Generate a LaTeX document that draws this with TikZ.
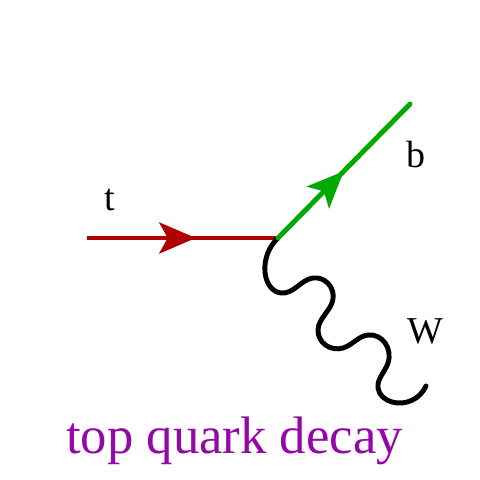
\documentclass[tikz,border=0pt]{standalone}
\usepackage{fontspec}
\setmainfont{Liberation Serif}
\usepackage{xcolor}
\usetikzlibrary{arrows.meta, decorations.markings, hobby}

\definecolor{topred}{RGB}{176,0,0}
\definecolor{bgreen}{RGB}{0,170,0}
\definecolor{titlepurple}{RGB}{148,8,168}

\begin{document}
\begin{tikzpicture}[x=0.025cm,y=-0.025cm,
                    quark/.style={line width=3.5pt},
                    midarrow/.style={postaction={decorate},
                      decoration={markings,mark=at position #1 with {\arrow{Stealth[length=26pt,width=22pt,inset=6pt]}}}},
                    boson/.style={line width=3.5pt,line cap=round,black},
                    particle/.style={font=\fontsize{27}{30}\selectfont,anchor=base}]
  \useasboundingbox (0,0) rectangle (480,480);

  \coordinate (tin) at (87,238);
  \coordinate (v) at (278,238);
  \coordinate (bout) at (410,104);
  \coordinate (wout) at (426,386);

  % top quark in
  \draw[quark,topred,midarrow=0.57] (tin) -- (v);

  % W boson
  \draw[boson] (v) to[curve through={(265,272) .. (281,293) .. (313,278) .. (333,299) .. (318,330) .. (343,348) .. (368,335) .. (388,363) .. (378,388) .. (392,402)}] (wout);

  % b quark out
  \draw[quark,bgreen,line cap=round,midarrow=0.5] (v) -- (bout);

  \node[particle] (t) at (110,210) {t};
  \node[particle] (b) at (416,167) {b};
  \node[particle] (W) at (425,343) {W};

  \node[font=\fontsize{37.5}{40}\selectfont,text=titlepurple,anchor=base] (title) at (234.5,453) {top quark decay};
\end{tikzpicture}
\end{document}
